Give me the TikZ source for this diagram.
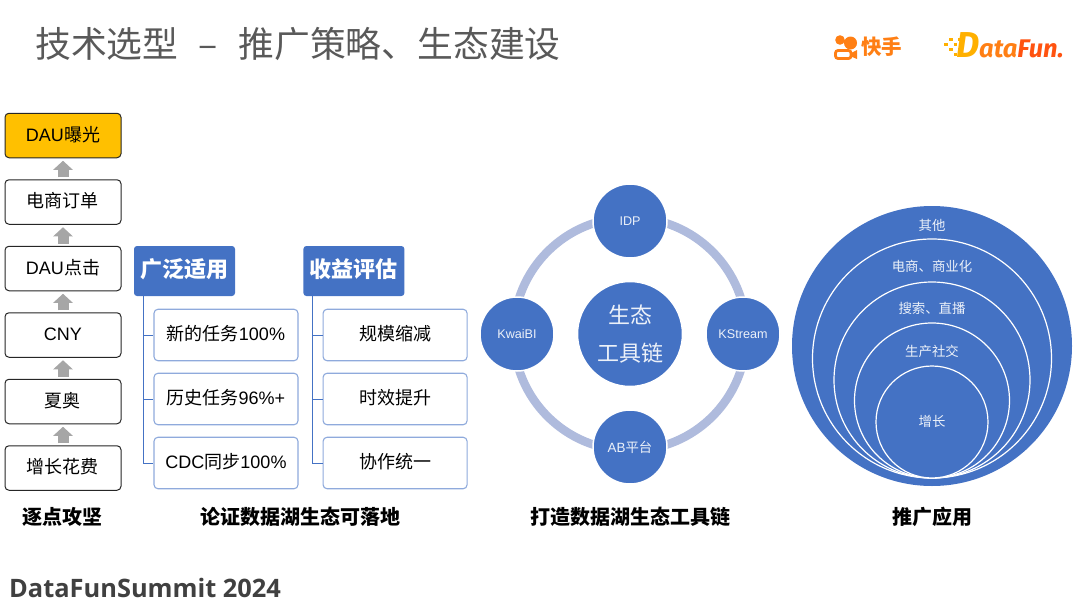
\documentclass[tikz,border=0pt]{standalone}
\usepackage{fontspec}
\setmainfont{Noto Sans CJK SC}
\newfontfamily\lat{Liberation Sans}
\newfontfamily\footfont{Open Sans}
\newfontfamily\logofont{Fira Sans}
\usepackage{xcolor}
\usetikzlibrary{arrows.meta,positioning,backgrounds,calc}
\definecolor{kblue}{HTML}{4472C4}
\definecolor{kline}{HTML}{8FAADC}
\definecolor{kring}{HTML}{AFBBDD}
\definecolor{kgold}{HTML}{FFC000}
\definecolor{kgray}{HTML}{A6A6A6}
\definecolor{korange}{HTML}{FF7F14}
\definecolor{kyellow}{HTML}{FFB000}
\definecolor{kred}{HTML}{FF5310}
\newcommand{\fs}[1]{\fontsize{#1}{#1}\selectfont}
\newcommand{\la}[1]{{\lat #1}}

\begin{document}
\begin{tikzpicture}[
  x=1pt,y=1pt,
  stepbox/.style={draw=black!85,line width=1pt,rounded corners=4pt,align=center,
              minimum width=116pt,minimum height=44.5pt,inner sep=0pt,fill=white,font=\fs{18},
              text height=14pt,text depth=2.4pt},
  up/.style={-{Triangle[length=9pt,width=19pt]},line width=11pt,draw=kgray,shorten <=2pt,shorten >=2.5pt},
  head/.style={fill=kblue,text=white,rounded corners=3pt,minimum width=101pt,minimum height=50pt,
              inner sep=0pt,font=\fs{22}\bfseries,text height=16pt,text depth=2.2pt},
  leaf/.style={draw=kline,line width=1.1pt,rounded corners=4pt,fill=white,minimum width=144pt,
              minimum height=51.5pt,inner sep=0pt,font=\fs{18},text height=14pt,text depth=2.4pt},
  tree/.style={draw=kblue,line width=0.9pt},
  sat/.style={circle,fill=kblue,draw=white,line width=1.5pt,minimum size=74pt,inner sep=0pt,
              text=white!90!kblue,font=\fs{12.6}},
  ringarc/.style={draw=kring,line width=8.5pt},
  disc/.style={circle,fill=kblue,draw=white,line width=1.2pt,inner sep=0pt},
  dlbl/.style={text=white!90!kblue,font=\fs{13.4}},
  capt/.style={font=\fs{20}\bfseries,text=black},
]
\useasboundingbox (0,0) rectangle (1080,-608);

% title
\node[anchor=west,inner sep=0pt,text=black!65,font=\fs{35.8}] (title) at (35,-44)
  {技术选型\hspace{20.5pt}–\hspace{20.5pt}推广策略、生态建设};

% left column
\node[stepbox] (s1) at (63,-468) {增长花费};
\node[stepbox,above=21pt of s1] (s2) {夏奥};
\node[stepbox,above=21pt of s2] (s3) {\la{CNY}};
\node[stepbox,above=21pt of s3] (s4) {\la{DAU}点击};
\node[stepbox,above=21pt of s4] (s5) {电商订单};
\node[stepbox,above=21pt of s5,fill=kgold] (s6) {\la{DAU}曝光};
\foreach \a/\b in {s1/s2,s2/s3,s3/s4,s4/s5,s5/s6}
  \draw[up] (\a) -- (\b);
\node[capt] (capa) at (63,-516.5) {逐点攻坚};

% first tree
\node[head] (ha) at (184.5,-271) {广泛适用};
\node[leaf] (a1) at (226,-335) {新的任务\la{100\%}};
\node[leaf,below=11.4pt of a1] (a2) {历史任务\la{96\%+}};
\node[leaf,below=11.4pt of a2] (a3) {\la{CDC}同步\la{100\%}};
\coordinate (ta) at ($(ha.south west)+(9.5,0)$);
\draw[tree] (ta) |- (a1.west);
\draw[tree] (ta) |- (a2.west);
\draw[tree] (ta) |- (a3.west);

% second tree
\node[head,right=68pt of ha] (hb) {收益评估};
\node[leaf,right=24pt of a1] (b1) {规模缩减};
\node[leaf,below=11.4pt of b1] (b2) {时效提升};
\node[leaf,below=11.4pt of b2] (b3) {协作统一};
\coordinate (tb) at ($(hb.south west)+(9.5,0)$);
\draw[tree] (tb) |- (b1.west);
\draw[tree] (tb) |- (b2.west);
\draw[tree] (tb) |- (b3.west);
\node[capt] (capb) at (300,-516.5) {论证数据湖生态可落地};

% tool chain ring
\node[sat,minimum size=105pt,font=\fontsize{22}{38}\selectfont,align=center] (hub) at (630,-334) {生态\\工具链};
\node[sat,above=22pt of hub] (idp) {\la{IDP}};
\node[sat,right=22pt of hub] (kst) {\la{KStream}};
\node[sat,below=22pt of hub,font=\fs{13.4}] (ab) {\la{AB}平台};
\node[sat,left=22pt of hub] (kbi) {\la{KwaiBI}};
\coordinate (rn) at ($(idp.center)+(0,3.5)$);
\coordinate (re) at ($(kst.center)+(3.5,0)$);
\coordinate (rs) at ($(ab.center)+(0,-3.5)$);
\coordinate (rw) at ($(kbi.center)+(-3.5,0)$);
\begin{scope}[on background layer]
  \draw[ringarc] (rn) to[out=0,in=90] (re);
  \draw[ringarc] (re) to[out=-90,in=0] (rs);
  \draw[ringarc] (rs) to[out=180,in=-90] (rw);
  \draw[ringarc] (rw) to[out=90,in=180] (rn);
\end{scope}
\node[capt] (capc) at (630,-516.5) {打造数据湖生态工具链};

% nested circles
\node[circle,fill=kblue,inner sep=0pt,minimum size=280pt] (d0) at (932,-346) {};
\node[disc,minimum size=239pt] (d1) at (932,-358.5) {};
\node[disc,minimum size=196pt] (d2) at (932,-380) {};
\node[disc,minimum size=155pt] (d3) at (932,-400.5) {};
\node[disc,minimum size=112pt] (d4) at (932,-422) {};
\node[dlbl] (l0) at (932,-225) {其他};
\node[dlbl] (l1) at (932,-266) {电商、商业化};
\node[dlbl] (l2) at (932,-308) {搜索、直播};
\node[dlbl] (l3) at (932,-351) {生产社交};
\node[dlbl] (l4) at (932,-421) {增长};
\node[capt] (capd) at (932,-516.5) {推广应用};

% logos
\fill[korange] (840,-40) circle (4.8pt) (850.5,-43) circle (6.5pt);
\draw[korange,line width=2.8pt,rounded corners=2.5pt] (835.5,-50.5) rectangle (851,-58.5);
\fill[korange] (851,-53) -- (857,-50) -- (857,-59) -- (851,-56.5) -- cycle;
\node[anchor=west,inner sep=0pt,text=korange,font=\fs{20.5}\bfseries] (ks) at (861,-47) {快手};
\foreach \px/\py in {944/-46,949/-41,949/-51,953.5/-46,953.5/-56,958/-41,958/-51}
  \fill[kyellow] (\px,\py) rectangle +(3.5,3.5);
\node[anchor=base west,inner sep=0pt,text=kyellow,font=\logofont\fs{36}\bfseries\itshape] (dl) at (956,-57.5) {D};
\node[anchor=base west,inner sep=0pt,font=\logofont\fs{25.5}\bfseries\itshape] (df) at (979,-57.5)
  {\textcolor{korange}{ata}\textcolor{kred}{Fun.}};

% footer
\node[anchor=west,inner sep=0pt,text=black!75,font=\footfont\fs{25.4}\bfseries] (foot) at (9,-588) {DataFunSummit 2024};
\end{tikzpicture}
\end{document}
